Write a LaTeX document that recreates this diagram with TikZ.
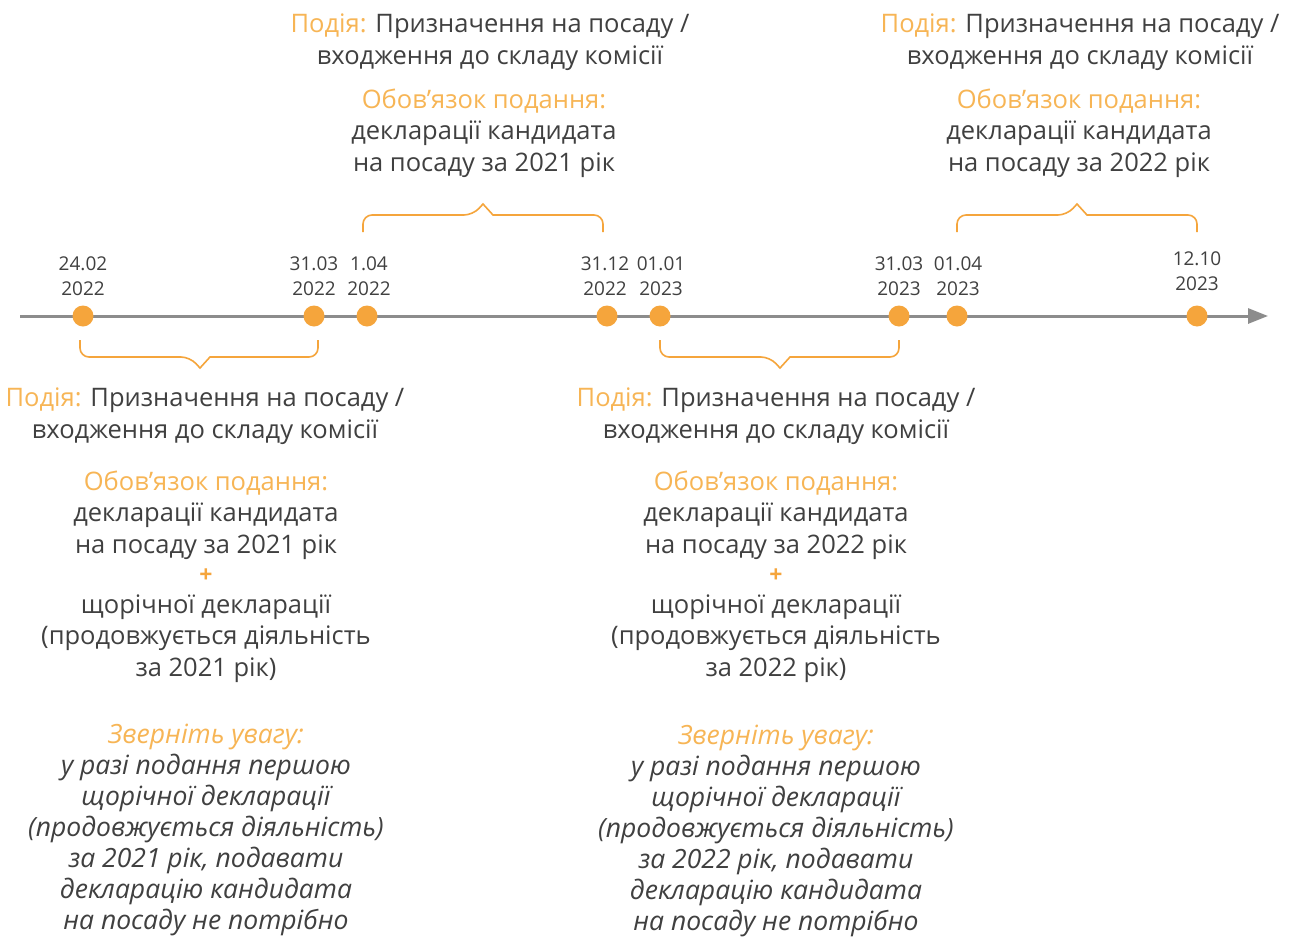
\documentclass[tikz,border=0pt]{standalone}
\usepackage{fontspec}
\setmainfont{Open Sans}
\usetikzlibrary{arrows.meta}
\definecolor{txt}{HTML}{404040}
\definecolor{org}{HTML}{F5A53C}
\definecolor{orgl}{HTML}{F7B555}
\definecolor{axisc}{HTML}{8C8C8C}
\begin{document}
\begin{tikzpicture}[x=1pt,y=-1pt,
  body/.style={align=center, inner sep=0pt, text=txt, font=\fontsize{25.5}{31.5}\selectfont, anchor=base},
  ital/.style={align=center, inner sep=0pt, text=txt, font=\fontsize{26.5}{31}\selectfont\itshape, anchor=base},
  datel/.style={align=center, inner sep=0pt, text=txt, font=\fontsize{19}{24.5}\selectfont, anchor=base},
  dot/.style={circle, fill=org, minimum size=21pt, inner sep=0pt},
  brc/.style={draw=org, line width=1.6pt, rounded corners=9pt},
  axisline/.style={draw=axisc, line width=3pt}]
\useasboundingbox (0,0) rectangle (1290,937);
\fill[white] (0,0) rectangle (1290,937);

% timeline
\coordinate (L) at (20,316);
\coordinate (R) at (1268,316);
\draw[axisline, -{Triangle[length=20pt,width=15pt]}] (L) -- (R);

% dots
\foreach \n/\x in {1/83,2/314,3/367,4/607,5/660,6/899,7/957,8/1197}
  \node[dot] (d\n) at (\x,316) {};

% dates (anchor = baseline of the last line)
\node[datel] (t1) at (83,295) {24.02\\2022};
\node[datel] (t2) at (314,295) {31.03\\2022};
\node[datel] (t3) at (369,295) {1.04\\2022};
\node[datel] (t4) at (605,295) {31.12\\2022};
\node[datel] (t5) at (661,295) {01.01\\2023};
\node[datel] (t6) at (899,295) {31.03\\2023};
\node[datel] (t7) at (958,295) {01.04\\2023};
\node[datel] (t8) at (1197,290) {12.10\\2023};

% braces below
\draw[brc] (80,340) -- (80,357) -- (190,357) [sharp corners] -- (200,368) -- (210,357) [rounded corners=9pt] -- (318,357) -- (318,340);
\draw[brc] (660,340) -- (660,357) -- (770,357) [sharp corners] -- (780,368) -- (790,357) [rounded corners=9pt] -- (899,357) -- (899,340);
% braces above
\draw[brc] (363,232) -- (363,215) -- (473,215) [sharp corners] -- (483,204) -- (493,215) [rounded corners=9pt] -- (603,215) -- (603,232);
\draw[brc] (957,232) -- (957,215) -- (1067,215) [sharp corners] -- (1077,204) -- (1087,215) [rounded corners=9pt] -- (1197,215) -- (1197,232);

% top block 1
\node[body] (ev1) at (490,64) {{\color{orgl}Подія:} Призначення на посаду /\\входження до складу комісії};
\node[body] (ob1) at (484,171) {{\color{orgl}Обов'язок подання:}\\декларації кандидата\\на посаду за 2021 рік};
% top block 2
\node[body] (ev2) at (1080,64) {{\color{orgl}Подія:} Призначення на посаду /\\входження до складу комісії};
\node[body] (ob2) at (1079,171) {{\color{orgl}Обов'язок подання:}\\декларації кандидата\\на посаду за 2022 рік};

% bottom block 1
\node[body] (ev3) at (205,438) {{\color{orgl}Подія:} Призначення на посаду /\\входження до складу комісії};
\node[body] (ob3) at (206,553) {{\color{orgl}Обов'язок подання:}\\декларації кандидата\\на посаду за 2021 рік};
\node[body, text=org, font=\fontsize{23}{24}\selectfont\bfseries] (pl3) at (206,582) {+};
\node[body] (an3) at (206,676) {щорічної декларації\\(продовжується діяльність\\за 2021 рік)};
\node[ital] (at3) at (206,929) {{\color{orgl}Зверніть увагу:}\\у разі подання першою\\щорічної декларації\\(продовжується діяльність)\\за 2021 рік, подавати\\декларацію кандидата\\на посаду не потрібно};

% bottom block 2
\node[body] (ev4) at (776,438) {{\color{orgl}Подія:} Призначення на посаду /\\входження до складу комісії};
\node[body] (ob4) at (776,553) {{\color{orgl}Обов'язок подання:}\\декларації кандидата\\на посаду за 2022 рік};
\node[body, text=org, font=\fontsize{23}{24}\selectfont\bfseries] (pl4) at (776,582) {+};
\node[body] (an4) at (776,676) {щорічної декларації\\(продовжується діяльність\\за 2022 рік)};
\node[ital] (at4) at (776,930) {{\color{orgl}Зверніть увагу:}\\у разі подання першою\\щорічної декларації\\(продовжується діяльність)\\за 2022 рік, подавати\\декларацію кандидата\\на посаду не потрібно};
\end{tikzpicture}
\end{document}
